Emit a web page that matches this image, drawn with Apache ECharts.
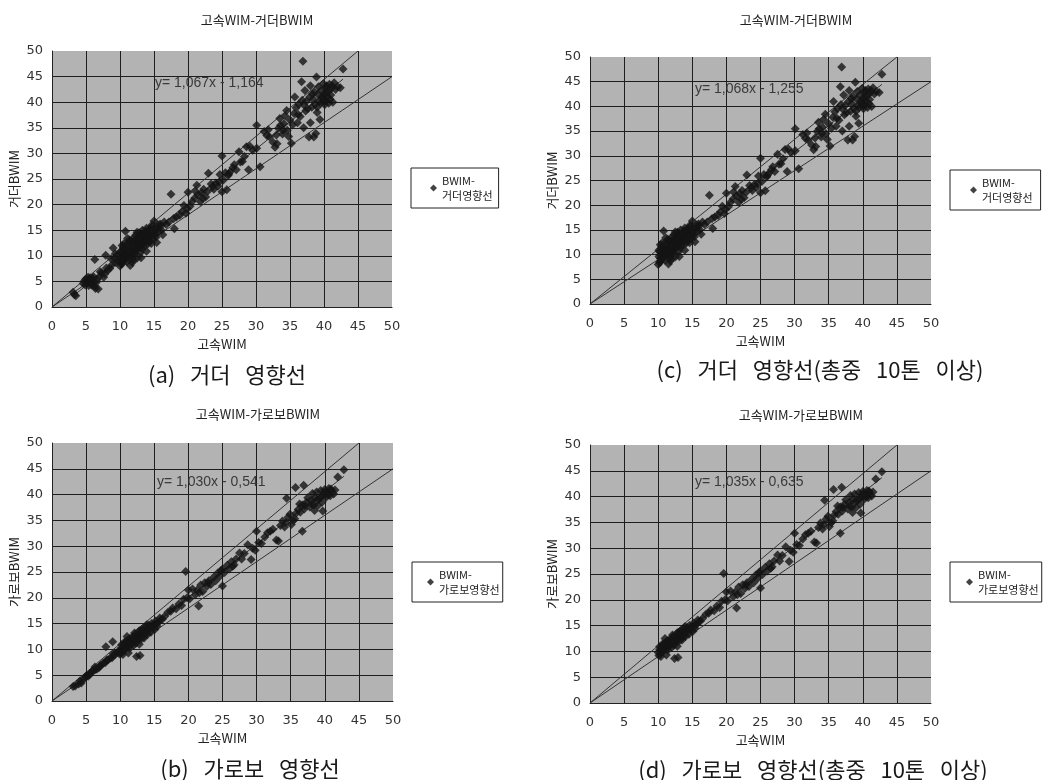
<!DOCTYPE html>
<html>
<head>
<meta charset="utf-8">
<script src="https://cdn.jsdelivr.net/npm/echarts@6/dist/echarts.min.js"></script>
<style>
html,body{margin:0;padding:0;background:#fff;}
#chart{width:1058px;height:780px;}
</style>
</head>
<body>
<div id="chart"></div>
<script>
// ---------- DATA ----------
var axisTicks = [0, 5, 10, 15, 20, 25, 30, 35, 40, 45, 50];
var chartTitles = ['고속WIM-거더BWIM', '고속WIM-거더BWIM', '고속WIM-가로보BWIM', '고속WIM-가로보BWIM'];
var captions = ['(a)   거더   영향선', '(c)   거더   영향선(총중   10톤   이상)', '(b)   가로보   영향선', '(d)   가로보   영향선(총중   10톤   이상)'];
var xNames = ['고속WIM', '고속WIM', '고속WIM', '고속WIM'];
var yNames = ['거더BWIM', '거더BWIM', '가로보BWIM', '가로보BWIM'];
var seriesNames = ['BWIM-\n거더영향선', 'BWIM-\n거더영향선', 'BWIM-\n가로보영향선', 'BWIM-\n가로보영향선'];
var equations = ['y= 1,067x - 1,164', 'y= 1,068x - 1,255', 'y= 1,030x - 0,541', 'y= 1,035x - 0,635'];
var slopes = [1.067, 1.068, 1.030, 1.035];
var intercepts = [-1.164, -1.255, -0.541, -0.635];
var minWeight = [0, 10, 0, 10];
var upperBand = [[0, 0], [45, 50]];
var lowerBand = [[0, 0], [50, 45]];

// 고속WIM vs 거더 BWIM (all vehicles)
var girderData = [
 [3.1,2.9],[3.3,2.4],[3.5,2.2],[4.6,4.6],[4.8,5.2],[5.0,5.5],[5.2,4.8],[5.4,4.2],[5.5,5.3],[5.7,5.0],
 [5.9,4.6],[6.0,5.6],[6.2,4.1],[6.4,3.6],[6.5,4.8],[6.3,9.3],[6.8,3.5],[6.1,5.9],[5.6,5.7],[7.0,6.0],
 [7.3,6.7],[7.6,5.8],[7.8,6.5],[7.9,10.1],[8.2,7.2],[8.5,7.5],[8.8,8.2],[9.0,11.5],[9.2,9.5],[9.4,8.7],
 [9.6,10.2],[9.8,9.0],[4.9,4.3],[5.3,5.8],[5.8,4.3],[6.6,5.3],[7.1,6.9],[8.0,7.6],[8.7,9.4],[9.3,10.4],
 [10.0,8.0],[10.1,9.6],[10.2,10.6],[10.3,8.5],[10.4,11.2],[10.5,9.3],[10.6,12.4],[10.7,10.1],[10.8,14.8],
 [10.9,11.0],[11.0,8.9],[11.1,10.5],[11.2,12.0],[11.3,9.8],[11.4,13.1],[11.5,11.4],[11.6,10.2],[11.7,12.6],
 [11.8,8.7],[11.9,11.9],[12.0,13.5],[12.1,10.8],[12.2,12.2],[12.3,14.0],[12.4,11.3],[12.5,9.5],[12.6,13.0],
 [12.7,12.1],[12.8,14.5],[12.9,11.6],[13.0,13.8],[13.1,9.6],[13.2,12.5],[13.3,15.0],[13.4,13.2],[13.5,11.8],
 [13.6,14.2],[13.7,12.8],[13.8,13.6],[13.9,10.9],[14.0,14.6],[14.1,12.3],[14.2,13.9],[14.3,15.2],[14.4,12.9],
 [14.5,14.0],[14.7,16.0],[14.8,13.3],[15.0,16.8],[15.1,14.5],[15.3,13.6],[15.5,15.4],[15.7,14.8],[15.9,16.2],
 [16.1,15.0],[16.3,14.1],[15.4,12.6],[12.0,9.2],[11.5,8.1],[13.0,10.6],[14.6,12.4],[10.2,8.4],[10.4,9.9],
 [11.0,10.0],[12.3,10.4],[13.3,12.1],[14.9,14.1],[10.6,9.0],[11.8,11.0],
 [10.1,10.9],[10.3,12.0],[10.5,11.6],[10.8,9.6],[11.1,13.4],[11.3,11.1],[11.6,12.9],[11.9,10.4],[12.1,12.8],
 [12.4,13.2],[12.6,11.7],[12.9,13.1],[13.1,14.3],[13.3,11.4],[13.6,13.0],[13.8,14.8],[14.0,13.3],[14.3,14.0],
 [14.6,15.5],[15.0,15.3],[15.2,14.0],[15.6,16.0],[16.0,15.8],[16.5,16.6],[10.3,9.2],[10.9,12.2],[11.4,10.7],
 [12.2,11.1],[12.8,12.6],[13.5,13.9],[14.2,12.7],[11.7,9.4],[12.5,14.6],[13.9,15.4],
 [16.8,16.1],[17.2,16.6],[17.5,22.0],[17.9,17.3],[18.0,15.3],[18.3,17.6],[18.8,17.9],[19.1,18.6],[19.4,19.8],
 [19.7,18.3],[20.0,22.4],[20.3,19.7],[20.6,20.6],[21.0,21.3],[21.3,23.8],[21.5,21.9],[21.8,20.6],[22.0,22.3],
 [22.3,23.0],[22.6,21.5],[22.9,22.6],[23.0,26.1],[23.4,24.0],[23.8,23.0],[24.1,24.2],[24.4,23.6],[24.7,25.9],
 [25.0,29.5],[25.0,22.5],[25.2,24.8],[25.5,26.2],[25.7,22.9],[25.9,25.7],[26.2,26.4],[26.6,27.2],[26.8,27.8],
 [27.1,26.8],[27.5,30.3],[27.7,28.3],[28.0,28.4],[28.3,29.4],[28.6,31.3],[28.9,26.8],[29.1,31.4],[29.5,30.6],
 [30.1,35.5],[30.1,31.0],[30.6,27.4],[19.9,19.2],[21.1,22.6],[22.2,21.2],[23.6,23.5],[24.6,24.4],[26.0,26.0],
 [31.2,34.3],[31.6,33.5],[31.8,34.6],[32.0,33.2],[32.5,32.2],[32.8,31.2],[33.1,31.9],[33.3,34.9],[33.5,36.8],
 [33.6,35.5],[33.9,33.8],[34.1,35.8],[34.3,37.3],[34.5,38.4],[34.6,34.5],[34.8,33.3],[35.0,36.5],[35.2,32.0],
 [35.4,35.6],[35.6,37.8],[35.7,41.0],[35.9,38.9],[36.1,36.0],[36.3,39.6],[36.5,37.2],[36.7,44.0],[36.9,48.0],
 [37.0,39.5],[37.2,42.3],[37.4,40.2],[37.6,38.7],[37.8,33.2],[37.9,41.0],[38.0,43.2],[38.2,39.0],[38.4,40.6],
 [38.6,42.0],[38.8,33.9],[38.9,44.9],[39.0,38.0],[39.1,41.5],[39.2,43.0],[39.4,36.6],[39.5,39.8],[39.6,42.3],
 [39.8,40.8],[39.9,43.6],[40.0,41.6],[40.1,39.5],[40.2,42.8],[40.3,40.3],[40.4,43.2],[40.5,41.0],[40.6,42.2],
 [40.7,39.8],[40.8,43.5],[41.0,41.4],[41.1,42.7],[41.3,40.0],[41.5,43.8],[41.7,42.5],[42.0,43.0],[42.4,42.8],
 [42.8,46.5],[38.5,33.2],[37.0,35.0],[38.0,36.0],[39.3,40.2],[39.7,41.0],[40.0,40.2],[40.4,41.8],[40.9,40.6],
 [38.3,41.6],[38.7,39.6],[37.3,38.3],[36.8,40.4],[34.0,34.5],[33.0,33.6],[36.2,37.6],[41.2,43.2],[39.0,39.0]
];

// 고속WIM vs 가로보 BWIM (all vehicles)
var crossBeamData = [
 [3.1,2.8],[3.4,2.9],[3.9,3.3],[4.3,3.5],[4.6,4.2],[4.9,4.6],[5.1,5.0],[5.3,4.8],[5.6,5.4],[5.9,5.7],
 [6.1,5.9],[6.3,6.6],[6.6,6.2],[6.9,6.5],[7.2,7.0],[7.5,7.3],[7.9,10.5],[7.8,7.4],[8.2,8.0],[8.5,8.3],
 [8.9,11.5],[8.8,8.4],[9.1,8.9],[9.4,9.3],[9.7,9.6],[9.9,9.1],[4.1,3.9],[5.5,5.1],[6.4,6.1],[7.0,6.8],
 [8.0,7.9],[9.0,9.2],
 [10.0,9.8],[10.2,10.3],[10.3,9.5],[10.5,10.6],[10.6,9.9],[10.8,11.2],[10.9,10.4],[11.0,12.5],[11.1,10.8],
 [11.3,11.5],[11.4,10.2],[11.6,11.9],[11.7,11.1],[11.9,12.4],[12.0,10.8],[12.1,13.2],[12.2,11.7],[12.4,12.3],
 [12.4,8.6],[12.6,12.9],[12.7,11.9],[12.8,13.6],[12.9,8.8],[13.0,12.6],[13.2,13.9],[13.3,13.1],[13.5,12.2],
 [13.6,14.3],[13.8,13.4],[13.9,14.8],[14.1,13.9],[14.3,14.5],[14.5,13.3],[14.6,15.0],[14.8,14.2],[15.0,14.8],
 [15.2,15.5],[15.4,14.5],[15.6,15.2],[15.9,15.7],[16.2,15.9],[16.5,16.4],[11.2,9.3],[12.8,11.0],[14.0,12.9],
 [10.1,9.2],[10.4,9.0],[10.7,10.1],[11.5,10.9],[12.3,11.2],[13.1,12.0],[14.4,14.0],[15.1,13.9],
 [10.2,10.9],[10.6,11.4],[11.0,11.7],[11.4,12.1],[11.8,11.5],[12.2,12.9],[12.6,12.2],[13.0,13.4],[13.4,13.7],
 [13.7,12.9],[14.2,14.7],[14.7,14.6],[15.3,15.0],[15.8,16.1],[12.0,12.0],[11.2,11.3],[13.6,13.4],
 [17.0,17.2],[17.4,17.4],[17.7,18.0],[18.2,17.9],[18.6,18.8],[19.0,18.5],[19.3,19.7],[19.6,25.1],[19.8,20.0],
 [20.0,21.5],[20.2,19.8],[20.6,21.7],[21.0,20.6],[21.3,21.5],[21.5,18.4],[21.8,22.5],[22.1,21.2],[22.4,22.9],
 [22.7,22.2],[23.0,23.3],[23.3,22.6],[23.7,24.0],[24.0,23.3],[24.3,24.8],[24.6,24.2],[25.0,22.3],[25.0,25.6],
 [25.3,24.9],[25.7,26.3],[26.0,25.6],[26.3,27.0],[26.7,26.4],[27.0,27.5],[27.5,28.7],[27.8,27.5],[28.2,28.6],
 [28.7,30.3],[29.2,27.4],[29.4,29.6],[29.8,29.2],[21.6,21.0],[22.9,22.9],[24.8,25.3],[26.5,26.1],
 [30.0,32.9],[30.3,30.7],[30.7,30.5],[31.2,31.8],[31.6,32.6],[32.0,32.9],[32.4,33.3],[32.9,31.2],[33.2,31.0],
 [33.5,34.0],[33.8,34.9],[34.1,33.7],[34.4,39.3],[34.6,35.6],[34.9,36.2],[35.1,34.2],[35.4,35.0],[35.7,41.4],
 [35.8,36.4],[36.1,37.1],[36.4,36.6],[36.7,32.9],[36.7,38.0],[36.9,41.8],[37.0,37.2],[37.3,38.5],[37.5,39.4],
 [37.8,37.6],[38.0,38.9],[38.2,40.2],[38.4,38.0],[38.6,39.4],[38.8,40.5],[39.0,37.9],[39.2,39.2],[39.4,40.8],
 [39.6,38.5],[39.8,39.9],[40.0,41.0],[40.2,39.5],[40.4,40.3],[40.6,41.2],[40.8,39.8],[41.0,40.7],[41.3,40.1],
 [41.5,40.9],[41.9,43.4],[42.8,44.8],[38.5,36.9],[39.7,36.8],[37.1,37.9],[38.9,39.0],[39.9,40.4],[40.5,39.9],
 [40.9,41.1],[34.3,34.6],[35.6,35.3],[36.3,38.2],[38.1,38.2],[39.5,39.6]
];

// ---------- LAYOUT ----------
var grids = [
  {left: 52, top: 51, width: 340, height: 256},
  {left: 590, top: 57, width: 341, height: 247},
  {left: 52, top: 443, width: 341, height: 258},
  {left: 590, top: 445, width: 341, height: 258}
];
var titlePos = [[252, 9], [791, 9], [253, 403], [796, 404]];
var captionPos = [[222, 359], [815, 354], [245, 753], [808, 754]];
var eqPos = [[150, 71], [690, 77], [152, 470], [690, 470]];
var legendPos = [
  {left: 411, top: 168, padding: [5, 6, 5, 19]},
  {left: 950, top: 170, padding: [5, 8, 5, 20]},
  {left: 412, top: 562, padding: [5, 3, 5, 15]},
  {left: 950, top: 562, padding: [5, 3, 5, 16]}
];

var cjk = '"Noto Sans CJK KR", "Noto Sans", sans-serif';
var datasets = [girderData, girderData, crossBeamData, crossBeamData];

var option = {
  backgroundColor: '#ffffff',
  animation: false,
  title: [], grid: [], xAxis: [], yAxis: [], series: [], legend: []
};

for (var i = 0; i < 4; i++) {
  var pts = datasets[i].filter(function (p) { return p[0] >= minWeight[i]; });
  var xs = pts.map(function (p) { return p[0]; });
  var xmin = Math.min.apply(null, xs), xmax = Math.max.apply(null, xs);
  var reg = [[xmin, slopes[i] * xmin + intercepts[i]], [xmax, slopes[i] * xmax + intercepts[i]]];

  option.grid.push(Object.assign({backgroundColor: '#b3b3b3', show: true, borderWidth: 0, containLabel: false}, grids[i]));
  option.title.push({text: chartTitles[i], left: titlePos[i][0], top: titlePos[i][1], textAlign: 'center',
    textStyle: {fontFamily: cjk, fontSize: 13, fontWeight: 'normal', color: '#222'}});
  option.title.push({text: captions[i], left: captionPos[i][0], top: captionPos[i][1], textAlign: 'center',
    textStyle: {fontFamily: cjk, fontSize: 22, fontWeight: 'normal', color: '#1a1a1a'}});
  option.title.push({text: equations[i], left: eqPos[i][0], top: eqPos[i][1],
    textStyle: {fontFamily: 'Liberation Sans, Arial, sans-serif', fontSize: 14, fontWeight: 'normal', color: '#3a3a3a'}});

  var axisCommon = {
    min: axisTicks[0], max: axisTicks[axisTicks.length - 1], interval: axisTicks[1] - axisTicks[0],
    gridIndex: i, nameLocation: 'middle',
    nameTextStyle: {fontFamily: cjk, fontSize: 13, color: '#222'},
    axisLine: {show: true, lineStyle: {color: '#222', width: 1}},
    axisTick: {show: false},
    splitLine: {show: true, showMaxLine: false, lineStyle: {color: '#1e1e1e', width: 1}},
    axisLabel: {fontFamily: 'DejaVu Sans, sans-serif', fontSize: 13, color: '#333'}
  };
  option.xAxis.push(Object.assign({}, axisCommon, {type: 'value', name: xNames[i], nameGap: 31,
    axisLabel: Object.assign({}, axisCommon.axisLabel, {margin: 13})}));
  option.yAxis.push(Object.assign({}, axisCommon, {type: 'value', name: yNames[i], nameGap: 31,
    axisLabel: Object.assign({}, axisCommon.axisLabel, {margin: 9})}));

  var lineStyle = {color: '#333', width: 1};
  option.series.push({type: 'line', xAxisIndex: i, yAxisIndex: i, data: upperBand, symbol: 'none',
    lineStyle: lineStyle, silent: true, z: 2});
  option.series.push({type: 'line', xAxisIndex: i, yAxisIndex: i, data: lowerBand, symbol: 'none',
    lineStyle: lineStyle, silent: true, z: 2});
  option.series.push({type: 'line', xAxisIndex: i, yAxisIndex: i, data: reg, symbol: 'none',
    lineStyle: lineStyle, silent: true, z: 2});
  option.series.push({type: 'scatter', name: seriesNames[i], xAxisIndex: i, yAxisIndex: i, data: pts,
    symbol: 'diamond', symbolSize: 9, itemStyle: {color: '#141414'}, z: 3});

  option.legend.push(Object.assign({
    data: [{name: seriesNames[i], icon: 'diamond'}], orient: 'vertical',
    itemWidth: 7, itemHeight: 7, itemGap: 0, selectedMode: false,
    backgroundColor: '#fff', borderColor: '#222', borderWidth: 1,
    textStyle: {fontFamily: cjk, fontSize: 11, color: '#222', lineHeight: 15}
  }, legendPos[i]));
}

var chart = echarts.init(document.getElementById('chart'), null, {renderer: 'canvas'});
chart.setOption(option);
</script>
</body>
</html>
